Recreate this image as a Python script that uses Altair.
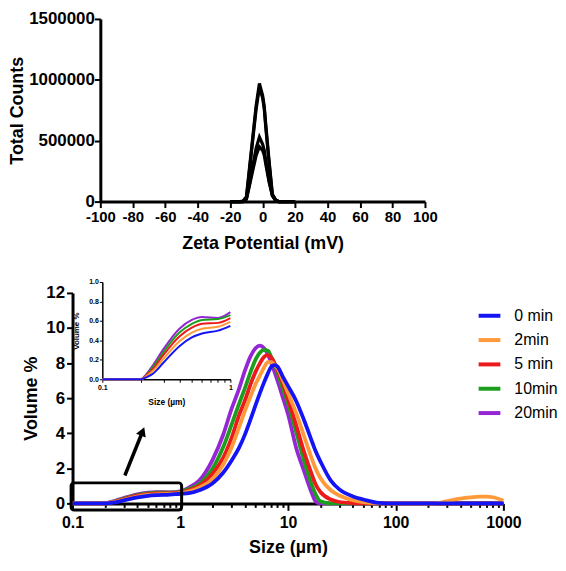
import altair as alt
import pandas as pd

# ---------------- Zeta potential (top panel) ----------------
ZETA_MV = [-20, -14, -12, -10, -8, -6, -4, -2, 0, 1, 2, 4, 6, 8, 10, 14, 20]
ZETA_RUN1 = [0, 0, 5000, 40000, 290000, 540000, 790000, 970000, 870000, 780000, 620000, 330000, 60000, 15000, 0, 0, 0]
ZETA_RUN2 = [0, 0, 3000, 30000, 270000, 520000, 760000, 940000, 850000, 760000, 600000, 310000, 55000, 12000, 0, 0, 0]
ZETA_RUN3 = [0, 0, 0, 20000, 150000, 300000, 440000, 530000, 470000, 420000, 330000, 170000, 50000, 10000, 0, 0, 0]
ZETA_RUN4 = [0, 0, 0, 20000, 140000, 260000, 380000, 450000, 420000, 380000, 300000, 160000, 50000, 10000, 0, 0, 0]
ZETA_TICKS = [-100, -80, -60, -40, -20, 0, 20, 40, 60, 80, 100]
COUNT_TICKS = [0, 500000, 1000000, 1500000]

# ---------------- Size distribution (bottom panel) ----------------
SIZE_UM = [0.1, 0.15, 0.2, 0.22, 0.25, 0.3, 0.4, 0.5, 0.6, 0.8,
           1.0, 1.2, 1.5, 2, 2.5, 3, 3.5, 4, 4.5, 5,
           5.5, 6, 6.5, 7, 7.5, 8, 9, 10, 12, 14,
           17, 18, 20, 25, 30, 40, 50, 70, 100, 150,
           200, 250, 300, 400, 500, 600, 700, 800, 1000]
VOL_0MIN = [0, 0, 0, 0.02, 0.06, 0.17, 0.34, 0.43, 0.47, 0.50,
            0.55, 0.58, 0.75, 1.15, 1.75, 2.45, 3.15, 3.95, 4.8, 5.6,
            6.3, 6.9, 7.4, 7.8, 7.89, 7.8, 7.2, 6.7, 5.8, 4.8,
            3.4, 3.0, 2.4, 1.3, 0.8, 0.4, 0.22, 0.03, 0, 0,
            0, 0, 0, 0, 0, 0, 0, 0, 0]
VOL_2MIN = [0, 0, 0, 0.03, 0.09, 0.21, 0.39, 0.48, 0.52, 0.54,
            0.59, 0.68, 0.9, 1.4, 2.2, 3.2, 4.3, 5.3, 6.1, 6.8,
            7.3, 7.75, 8.05, 8.05, 7.9, 7.7, 7.0, 6.3, 5.1, 3.9,
            2.4, 2.0, 1.45, 0.75, 0.45, 0.18, 0.07, 0.01, 0, 0,
            0, 0.03, 0.13, 0.27, 0.34, 0.38, 0.38, 0.35, 0.15]
VOL_5MIN = [0, 0, 0, 0.04, 0.11, 0.25, 0.44, 0.53, 0.57, 0.58,
            0.63, 0.75, 1.0, 1.7, 2.6, 3.75, 5.0, 5.9, 6.8, 7.5,
            8.0, 8.35, 8.45, 8.3, 8.0, 7.6, 6.8, 5.95, 4.4, 3.0,
            1.5, 1.1, 0.65, 0.22, 0.08, 0.02, 0, 0, 0, 0,
            0, 0, 0, 0, 0, 0, 0, 0, 0]
VOL_10MIN = [0, 0, 0, 0.04, 0.13, 0.28, 0.48, 0.57, 0.61, 0.62,
             0.66, 0.82, 1.1, 2.0, 3.2, 4.5, 5.65, 6.6, 7.5, 8.2,
             8.6, 8.75, 8.7, 8.35, 7.95, 7.45, 6.5, 5.7, 4.0, 2.5,
             0.9, 0.55, 0.12, 0, 0, 0, 0, 0, 0, 0,
             0, 0, 0, 0, 0, 0, 0, 0, 0]
VOL_20MIN = [0, 0, 0, 0.05, 0.15, 0.31, 0.52, 0.61, 0.64, 0.63,
             0.69, 0.9, 1.3, 2.5, 3.9, 5.4, 6.5, 7.6, 8.4, 8.85,
             9.0, 8.85, 8.5, 8.0, 7.5, 7.0, 6.0, 5.1, 3.1, 1.9,
             0.45, 0.12, 0, 0, 0, 0, 0, 0, 0, 0,
             0, 0, 0, 0, 0, 0, 0, 0, 0]

SERIES = ["0 min", "2min", "5 min", "10min", "20min"]
COLORS = ["#1414f5", "#ff9a3a", "#ec1a1a", "#1c9e1c", "#9626d4"]
DRAW_ORDER = ["20min", "10min", "5 min", "2min", "0 min"]
VALUES = {"0 min": VOL_0MIN, "2min": VOL_2MIN, "5 min": VOL_5MIN,
          "10min": VOL_10MIN, "20min": VOL_20MIN}

VOL_TICKS = [0, 2, 4, 6, 8, 10, 12]
SIZE_TICKS = [round(m * 10 ** e, 6) for e in range(-1, 3) for m in range(1, 10)] + [1000]
INSET_X_TICKS = [0.1, 0.2, 0.3, 0.4, 0.5, 0.6, 0.7, 0.8, 0.9, 1.0]
INSET_Y_TICKS = [0, 0.2, 0.4, 0.6, 0.8, 1.0]

# zoom box and arrow annotation (data coordinates of the main panel)
BOX_SIZE = [0.097, 1.03]
BOX_VOL = [-0.38, 1.17]
ARROW_SIZE = [0.306, 0.447]
ARROW_VOL = [1.59, 4.10]

FONT = "Liberation Sans"

# ---------------- data frames ----------------
zrows = []
for name, vals in [("r1", ZETA_RUN1), ("r2", ZETA_RUN2), ("r3", ZETA_RUN3), ("r4", ZETA_RUN4)]:
    for x, v in zip(ZETA_MV, vals):
        zrows.append({"run": name, "mv": x, "counts": v})
zdf = pd.DataFrame(zrows)

rows = []
for s in DRAW_ORDER:
    for x, v in zip(SIZE_UM, VALUES[s]):
        rows.append({"series": s, "size": x, "vol": v})
df = pd.DataFrame(rows)
df_inset = df[df["size"] <= 1.0]

box_df = pd.DataFrame({"size": [BOX_SIZE[0]], "size2": [BOX_SIZE[1]],
                       "vol": [BOX_VOL[0]], "vol2": [BOX_VOL[1]]})
arrow_df = pd.DataFrame({"size": ARROW_SIZE, "vol": ARROW_VOL})
head_df = pd.DataFrame({"size": [ARROW_SIZE[1]], "vol": [ARROW_VOL[1]]})

# ---------------- top chart ----------------
top = alt.Chart(zdf).mark_line(strokeWidth=3.2, color="black").encode(
    x=alt.X("mv:Q",
            scale=alt.Scale(domain=[-100, 100], range=[28, 355], nice=False),
            axis=alt.Axis(values=ZETA_TICKS, title="Zeta Potential (mV)",
                          labelExpr="'' + datum.value", labelOverlap=False,
                          labelFont=FONT, labelFontSize=15, labelFontWeight="bold",
                          labelColor="black", labelPadding=2, labelFlush=False,
                          titleFont=FONT, titleFontSize=18, titleFontWeight="bold",
                          titleColor="black", titlePadding=10,
                          tickSize=6, tickWidth=2, tickColor="black",
                          domainWidth=3, domainColor="black", grid=False)),
    y=alt.Y("counts:Q",
            scale=alt.Scale(domain=[0, 1500000], nice=False),
            axis=alt.Axis(values=COUNT_TICKS, format="d", title="Total Counts", offset=-28,
                          labelOverlap=False,
                          labelFont=FONT, labelFontSize=17, labelFontWeight="bold",
                          labelColor="black", labelPadding=0,
                          titleFont=FONT, titleFontSize=18, titleFontWeight="bold",
                          titleColor="black", titlePadding=2,
                          tickSize=6, tickWidth=2, tickColor="black",
                          domainWidth=3, domainColor="black", grid=False)),
    detail="run:N",
).properties(width=355, height=184)

# ---------------- bottom chart ----------------
BOTTOM_H = 212
color_scale = alt.Scale(domain=SERIES, range=COLORS)
legend = alt.Legend(orient="none", legendX=407, legendY=10, title=None,
                    symbolType="stroke", symbolStrokeWidth=4, symbolSize=480,
                    labelFont=FONT, labelFontSize=16, labelColor="black",
                    labelOffset=12, rowPadding=3.5, padding=0)

decade_test = "abs(log(datum.value)/LN10 - round(log(datum.value)/LN10)) < 0.01"

X_AXIS = alt.Axis(values=SIZE_TICKS, title="Size (µm)",
                  labelExpr=f"({decade_test}) ? format(datum.value, '~g') : ''",
                  labelOverlap=False, labelFlush=False,
                  labelFont=FONT, labelFontSize=16, labelFontWeight="bold",
                  labelColor="black", labelPadding=4,
                  titleFont=FONT, titleFontSize=18, titleFontWeight="bold",
                  titleColor="black", titlePadding=8,
                  tickSize={"condition": {"test": decade_test, "value": 7}, "value": 4},
                  tickWidth=2, tickColor="black",
                  domainWidth=3, domainColor="black", grid=False)
Y_AXIS = alt.Axis(values=VOL_TICKS, title="Volume %", labelOverlap=False,
                  labelFont=FONT, labelFontSize=17, labelFontWeight="bold",
                  labelColor="black", labelPadding=2,
                  titleFont=FONT, titleFontSize=18, titleFontWeight="bold",
                  titleColor="black", titlePadding=5,
                  tickSize=6, tickWidth=2, tickColor="black",
                  domainWidth=3, domainColor="black", grid=False)
X_SCALE = alt.Scale(type="log", domain=[0.1, 1000], nice=False)
Y_SCALE = alt.Scale(domain=[0, 12], nice=False)

def xm():
    return alt.X("size:Q", scale=X_SCALE, axis=X_AXIS)

def ym():
    return alt.Y("vol:Q", scale=Y_SCALE, axis=Y_AXIS)

main_lines = alt.Chart(df).mark_line(strokeWidth=3.8, interpolate="monotone").encode(
    x=xm(), y=ym(),
    color=alt.Color("series:N", scale=color_scale, legend=legend, sort=SERIES),
)
box = alt.Chart(box_df).mark_rect(fill="transparent", stroke="black", strokeWidth=3,
                                  cornerRadius=3).encode(
    x=xm(), x2="size2:Q", y=ym(), y2="vol2:Q")
arrow = alt.Chart(arrow_df).mark_line(color="black", strokeWidth=3.5).encode(
    x=xm(), y=ym())
head = alt.Chart(head_df).mark_point(shape="triangle-up", filled=True, size=110,
                                     angle=22, color="black", opacity=1).encode(
    x=xm(), y=ym())

main_layer = alt.layer(main_lines, box, arrow, head)

inset = alt.Chart(df_inset).mark_line(strokeWidth=2, interpolate="monotone").encode(
    x=alt.X("size:Q",
            scale=alt.Scale(type="log", domain=[0.1, 1], range=[30, 159], nice=False),
            axis=alt.Axis(orient="bottom", offset=-(BOTTOM_H - 87), values=INSET_X_TICKS,
                          title="Size (µm)",
                          labelExpr=f"({decade_test}) ? format(datum.value, '~g') : ''",
                          labelOverlap=False, labelFlush=False,
                          labelFont=FONT, labelFontSize=7, labelFontWeight="bold",
                          labelColor="black", labelPadding=1,
                          titleFont=FONT, titleFontSize=8.5, titleFontWeight="bold",
                          titleColor="black", titlePadding=7,
                          tickSize=3, tickWidth=1, tickColor="black",
                          domainWidth=1.5, domainColor="black", grid=False)),
    y=alt.Y("vol:Q",
            scale=alt.Scale(domain=[0, 1], range=[87, -11], nice=False),
            axis=alt.Axis(orient="left", offset=-30, values=INSET_Y_TICKS, format=".1f",
                          title="Volume %", labelOverlap=False,
                          labelFont=FONT, labelFontSize=7, labelFontWeight="bold",
                          labelColor="black", labelPadding=1,
                          titleFont=FONT, titleFontSize=8, titleFontWeight="bold",
                          titleColor="black", titlePadding=8,
                          tickSize=3, tickWidth=1, tickColor="black",
                          domainWidth=1.5, domainColor="black", grid=False)),
    color=alt.Color("series:N", scale=color_scale, legend=legend, sort=SERIES),
)

bottom = alt.layer(main_layer, inset).resolve_scale(
    x="independent", y="independent"
).properties(width=434, height=BOTTOM_H)

chart = alt.vconcat(top, bottom, spacing=26).resolve_legend(
    color="independent"
).properties(
    padding=0, background="white"
).configure_view(strokeWidth=0)

chart.save("out.html", embed_options={"renderer": "svg", "actions": False})
